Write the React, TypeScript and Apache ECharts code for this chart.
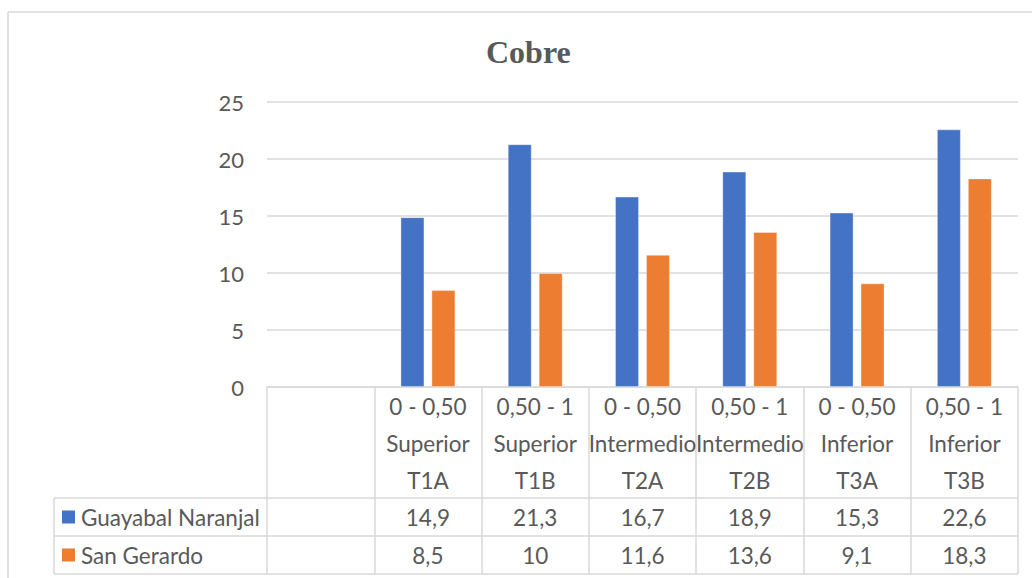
import React, { useEffect, useRef } from "react";
import * as echarts from "echarts";

// Depth interval, slope position and sample code for each column of the data table
const depths = ["", "0 - 0,50", "0,50 - 1", "0 - 0,50", "0,50 - 1", "0 - 0,50", "0,50 - 1"];
const zones = ["", "Superior", "Superior", "Intermedio", "Intermedio", "Inferior", "Inferior"];
const codes = ["", "T1A", "T1B", "T2A", "T2B", "T3A", "T3B"];

const seriesNames = ["Guayabal Naranjal", "San Gerardo"];
const guayabal: (number | null)[] = [null, 14.9, 21.3, 16.7, 18.9, 15.3, 22.6];
const sanGerardo: (number | null)[] = [null, 8.5, 10, 11.6, 13.6, 9.1, 18.3];
const yTicks = [0, 5, 10, 15, 20, 25];

const COLORS = ["#4472C4", "#ED7D31"];
const TEXT = "#595959";
const LINE = "#d9d9d9";
const FONT = "Lato, 'Noto Sans', sans-serif";
const FS = 22.5;

const GRID = { left: 267, right: 14, top: 102, bottom: 191 };
const HEADER_H = 111;
const ROW_H = 38;
const TABLE_LEFT = 54;

const fmt = (v: number | null) => (v == null ? "" : String(v).replace(".", ","));

export default function App() {
  const ref = useRef<HTMLDivElement>(null);

  useEffect(() => {
    if (!ref.current) return;
    const chart = echarts.init(ref.current, undefined, { renderer: "svg" });
    const categories = depths.map((d, i) => (d ? `${d}\n${zones[i]}\n${codes[i]}` : ""));
    const values = [guayabal, sanGerardo];

    chart.setOption({
      animation: false,
      backgroundColor: "#ffffff",
      title: {
        text: "Cobre",
        left: 486,
        top: 36,
        padding: 0,
        textStyle: { fontFamily: "'Liberation Serif', 'Times New Roman', serif", fontWeight: "bold", fontSize: 32, color: TEXT },
      },
      grid: { ...GRID },
      xAxis: {
        type: "category",
        data: categories,
        axisLine: { show: true, lineStyle: { color: LINE, width: 1.5 } },
        axisTick: { show: true, interval: 0, length: HEADER_H + 2 * ROW_H, lineStyle: { color: LINE, width: 1.5 } },
        axisLabel: { interval: 0, margin: 1, fontSize: FS, lineHeight: 37, color: TEXT, fontFamily: FONT },
      },
      yAxis: {
        type: "value",
        min: yTicks[0],
        max: yTicks[yTicks.length - 1],
        interval: 5,
        axisLine: { show: false },
        axisTick: { show: false },
        splitLine: { lineStyle: { color: LINE, width: 1.5 } },
        axisLabel: { fontSize: 22, color: TEXT, fontFamily: FONT, margin: 23 },
      },
      series: values.map((data, s) => ({
        type: "bar",
        name: seriesNames[s],
        data,
        barWidth: 24,
        barGap: "29%",
        itemStyle: { color: COLORS[s], borderColor: "rgba(255,255,255,0.35)", borderWidth: 1 },
      })),
    });

    // Data table below the plot: row borders, legend keys and the values per column
    const base = 578 - GRID.bottom;
    const rightX = 1032 - GRID.right;
    const rowTop = base + HEADER_H;
    const els: any[] = [];
    // outer chart border
    els.push({ type: "line", shape: { x1: 8, y1: 12, x2: 1032, y2: 12 }, style: { stroke: LINE, lineWidth: 1.5 } });
    els.push({ type: "line", shape: { x1: 8, y1: 12, x2: 8, y2: 578 }, style: { stroke: LINE, lineWidth: 1.5 } });
    for (let r = 0; r <= seriesNames.length; r++) {
      const y = rowTop + r * ROW_H;
      els.push({ type: "line", shape: { x1: TABLE_LEFT, y1: y, x2: rightX, y2: y }, style: { stroke: LINE, lineWidth: 1.5 } });
    }
    els.push({
      type: "line",
      shape: { x1: TABLE_LEFT, y1: rowTop, x2: TABLE_LEFT, y2: rowTop + seriesNames.length * ROW_H },
      style: { stroke: LINE, lineWidth: 1.5 },
    });
    seriesNames.forEach((name, s) => {
      const cy = rowTop + s * ROW_H + ROW_H / 2;
      els.push({ type: "rect", shape: { x: 62, y: cy - 6.5, width: 13, height: 13 }, style: { fill: COLORS[s] } });
      els.push({
        type: "text",
        x: 81,
        y: cy,
        style: { text: name, fill: TEXT, font: `${FS}px ${FONT}`, textAlign: "left", textVerticalAlign: "middle" },
      });
      values[s].forEach((v, i) => {
        const cx = chart.convertToPixel({ xAxisIndex: 0 }, i) as number;
        els.push({
          type: "text",
          x: cx,
          y: cy,
          style: { text: fmt(v), fill: TEXT, font: `${FS}px ${FONT}`, textAlign: "center", textVerticalAlign: "middle" },
        });
      });
    });
    chart.setOption({ graphic: { elements: els } });

    return () => chart.dispose();
  }, []);

  return <div ref={ref} style={{ position: "fixed", left: 0, top: 0, width: 1032, height: 578 }} />;
}
